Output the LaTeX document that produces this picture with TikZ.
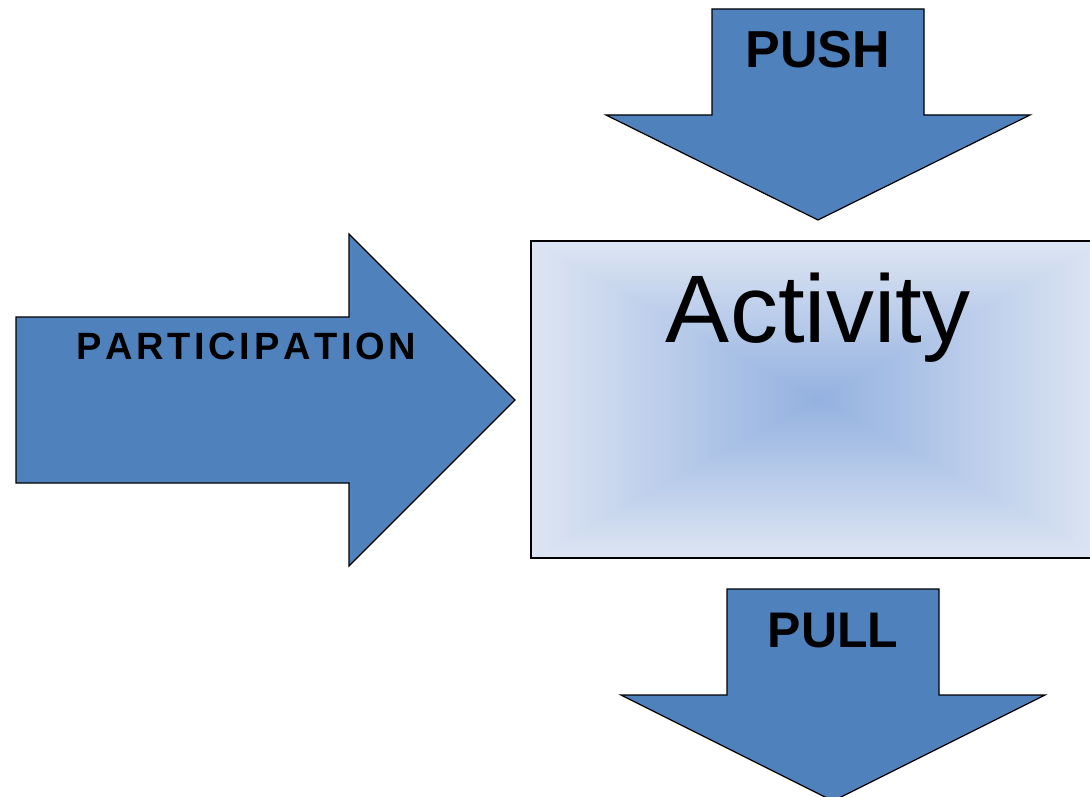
\documentclass[tikz,border=0pt]{standalone}
\usepackage{fontspec}
\setmainfont{Liberation Sans}
\definecolor{arrowblue}{HTML}{4F81BD}
\definecolor{actE}{HTML}{DDE5F3}
\definecolor{actC}{HTML}{93B1E0}
\begin{document}
\begin{tikzpicture}[x=1pt,y=-1pt,
  bigarrow/.style={fill=arrowblue,draw=black,line width=1.2pt,line join=miter},
  arrowlabel/.style={font=\bfseries\fontsize{50}{50}\selectfont,anchor=base,inner sep=0pt},
  actlabel/.style={font=\fontsize{96}{96}\selectfont,anchor=base,inner sep=0pt}]
\useasboundingbox (0,0) rectangle (1090,797);
\clip (0,0) rectangle (1090,797);
% activity box with rectangular gradient
\foreach \i in {0,...,70}{
  \pgfmathsetmacro\s{1-\i/70}
  \pgfmathsetmacro\p{100*\i/70}
  \fill[actC!\p!actE] ({818-287*\s},{399.5-158.5*\s}) rectangle ({818+287*\s},{399.5+158.5*\s});
}
\draw[line width=1.2pt] (1120,241) -- (531,241) -- (531,558) -- (1120,558);
\node[actlabel] (activity) at (818,342) {Activity};
% PUSH arrow
\draw[bigarrow] (712,9) -- (924,9) -- (924,115) -- (1030,115) -- (818,220) -- (606,115) -- (712,115) -- cycle;
\node[arrowlabel,font=\bfseries\fontsize{52}{52}\selectfont] (push) at (818,68) {PUSH};
% PULL arrow
\draw[bigarrow] (727,589) -- (939,589) -- (939,695) -- (1045,695) -- (833,801) -- (621,695) -- (727,695) -- cycle;
\node[arrowlabel] (pull) at (833,647) {PULL};
% PARTICIPATION arrow
\draw[bigarrow] (16,317) -- (349,317) -- (349,234) -- (515,400) -- (349,566) -- (349,483) -- (16,483) -- cycle;
\node[font=\bfseries\fontsize{38}{38}\selectfont,anchor=base west,inner sep=0pt] (part) at (76,359)
  {\makebox[340pt][s]{P\hfill A\hfill R\hfill T\hfill I\hfill C\hfill I\hfill P\hfill A\hfill T\hfill I\hfill O\hfill N}};
\end{tikzpicture}
\end{document}
